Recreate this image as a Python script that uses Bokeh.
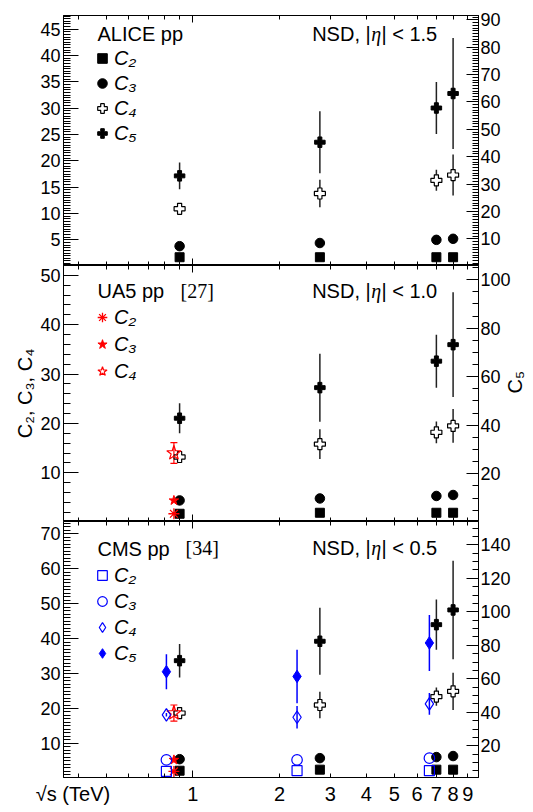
import math
from bokeh.plotting import figure
from bokeh.models import (ColumnDataSource, Range1d, LinearAxis, LogAxis, FixedTicker,
                          SingleIntervalTicker, Legend, LegendItem, Label, Whisker, TeeHead,
                          CustomJSTickFormatter)
from bokeh.layouts import column
from bokeh.embed import file_html
from bokeh.resources import INLINE

SANS = "Liberation Sans"
SERIF = "Liberation Serif"

# ---------------- data ----------------
alice_sqrts = [0.9, 2.76, 7.0, 8.0]
ua5_sqrts = [0.86]
cms_sqrts = [0.81, 2.3, 6.62]

x_title = "\u221as (TeV)"
x_title_pos = 0.384
x_label_ticks = [1, 2, 3, 4, 5, 6, 7, 8, 9]
x_edge_major = [1]
x_edge_minor = [0.4, 0.5, 0.6, 0.7, 0.8, 0.9, 2, 3, 4, 5, 6, 7, 8, 9]

# panel 1 : ALICE NSD |eta| < 1.5
alice15_c2 = [1.7, 1.7, 1.7, 1.7]
alice15_c3 = [3.8, 4.4, 5.0, 5.2]
alice15_c4 = [10.9, 13.8, 16.3, 17.3]
alice15_c4_err = [0.5, 2.6, 2.0, 3.9]
alice15_c5 = [33.0, 45.3, 57.8, 63.1]
alice15_c5_err = [4.9, 11.3, 9.5, 20.3]

# panel 2 : NSD |eta| < 1.0
alice10_c2 = [1.7, 1.9, 1.9, 1.9]
alice10_c3 = [4.4, 4.8, 5.3, 5.5]
alice10_c4 = [13.2, 15.8, 18.2, 19.5]
alice10_c4_err = [0.8, 3.0, 2.2, 3.4]
alice10_c5 = [42.9, 55.5, 66.4, 73.2]
alice10_c5_err = [6.2, 14.0, 10.9, 21.6]
ua510_c2 = [1.7]
ua510_c3 = [4.4]
ua510_c4 = [14.0]
ua510_c4_err = [2.1]

# panel 3 : NSD |eta| < 0.5
alice05_c2 = [2.2, 2.5, 2.5, 2.5]
alice05_c3 = [5.5, 5.8, 6.1, 6.4]
alice05_c4 = [18.7, 21.0, 23.4, 24.9]
alice05_c4_err = [1.4, 3.8, 2.6, 5.3]
alice05_c5 = [70.8, 82.4, 92.3, 101.1]
alice05_c5_err = [10.0, 20.0, 15.0, 29.4]
ua505_c2 = [2.0]
ua505_c3 = [5.3]
ua505_c4 = [18.7]
ua505_c4_err = [2.3]
cms05_c2 = [2.0, 2.2, 2.2]
cms05_c3 = [5.3, 5.3, 5.8]
cms05_c4 = [18.2, 17.5, 21.3]
cms05_c4_err = [0.5, 3.2, 3.1]
cms05_c5 = [64.2, 61.4, 81.4]
cms05_c5_err = [10.5, 16.0, 16.7]

BLACK = "#000000"
RED = "#ff0000"
BLUE = "#0000ff"
FRAME_W = 415
TICK_FS = "18px"
TEXT_FS = "20px"


def style(ax, tin, minin, size=None, standoff=0):
    ax.major_tick_in = tin
    ax.major_tick_out = 0
    ax.minor_tick_in = minin
    ax.minor_tick_out = 0
    ax.axis_line_color = BLACK
    ax.major_tick_line_color = BLACK
    ax.minor_tick_line_color = BLACK
    if size is None:
        ax.major_label_text_font_size = "0px"
        ax.major_label_standoff = 0
        ax.major_label_text_alpha = 0
    else:
        ax.major_label_text_font = SANS
        ax.major_label_text_font_size = size
        ax.major_label_text_color = BLACK
        ax.major_label_standoff = standoff


def make_panel(fh, ylim, y2lim, lint, lmin, rint, rmin, top_b, bot_b, last):
    p = figure(x_axis_type="log", x_range=Range1d(0.356, 9.8), y_range=Range1d(*ylim),
               frame_width=FRAME_W, frame_height=fh, min_border_left=63, min_border_right=52,
               min_border_top=top_b, min_border_bottom=bot_b,
               output_backend="svg", toolbar_location=None)
    p.extra_y_ranges = {"r": Range1d(*y2lim)}
    p.xgrid.grid_line_color = None
    p.ygrid.grid_line_color = None
    p.outline_line_color = BLACK
    p.outline_line_width = 1
    p.background_fill_color = "white"
    p.border_fill_color = "white"
    xb = p.xaxis[0]
    xb.ticker = FixedTicker(ticks=x_edge_major, minor_ticks=x_edge_minor)
    style(xb, 7, 4)
    if last:
        fmt = CustomJSTickFormatter(
            code="return tick < 0.5 ? '%s' : tick.toFixed(0)" % x_title)
        xl = LogAxis(ticker=FixedTicker(ticks=[x_title_pos] + x_label_ticks), formatter=fmt)
        style(xl, 0, 0, "20px", 5)
        xl.axis_line_color = None
        xl.major_tick_line_color = None
        xl.minor_tick_line_color = None
        p.add_layout(xl, "below")
    xt = LogAxis(ticker=FixedTicker(ticks=x_edge_major, minor_ticks=x_edge_minor))
    style(xt, 7, 4)
    p.add_layout(xt, "above")
    yl = p.yaxis[0]
    yl.ticker = SingleIntervalTicker(interval=lint, num_minor_ticks=lmin)
    style(yl, 15, 7, TICK_FS, 3)
    yr = LinearAxis(y_range_name="r",
                    ticker=SingleIntervalTicker(interval=rint, num_minor_ticks=rmin))
    style(yr, 12, 6, TICK_FS, 2)
    p.add_layout(yr, "right")
    return p, yl, yr


def errbar(p, x, v, e, color, rname=None, width=1.5):
    src = ColumnDataSource(dict(x=x, lo=[a - b for a, b in zip(v, e)],
                                hi=[a + b for a, b in zip(v, e)]))
    kw = {"y_range_name": rname} if rname else {}
    p.segment(x0="x", y0="lo", x1="x", y1="hi", source=src,
              line_color=color, line_width=width, **kw)


def capped_errbar(p, x, v, e, color):
    src = ColumnDataSource(dict(x=x, lo=[a - b for a, b in zip(v, e)],
                                hi=[a + b for a, b in zip(v, e)]))
    w = Whisker(source=src, base="x", lower="lo", upper="hi", dimension="height",
                line_color=color, line_width=1.2,
                upper_head=TeeHead(size=7, line_color=color, line_width=1.2),
                lower_head=TeeHead(size=7, line_color=color, line_width=1.2))
    p.add_layout(w)


def alice(p, c2, c3, c4, c4e, c5, c5e):
    errbar(p, alice_sqrts, c4, c4e, "#222222")
    errbar(p, alice_sqrts, c5, c5e, "#222222", "r")
    r2 = p.scatter(alice_sqrts, c2, marker="square", size=9, fill_color=BLACK, line_color=BLACK)
    r3 = p.scatter(alice_sqrts, c3, marker="circle", size=9.5, fill_color=BLACK, line_color=BLACK)
    r4 = p.scatter(alice_sqrts, c4, marker="plus", size=11, fill_color="white",
                   line_color=BLACK, line_width=1.2)
    r5 = p.scatter(alice_sqrts, c5, marker="plus", size=10.5, fill_color=BLACK,
                   line_color=BLACK, y_range_name="r")
    return [r2, r3, r4, r5]


def ua5(p, c2, c3, c4, c4e):
    capped_errbar(p, ua5_sqrts, c4, c4e, RED)
    r2 = p.scatter(ua5_sqrts, c2, marker="asterisk", size=11, line_color=RED, line_width=1.3)
    r3 = p.scatter(ua5_sqrts, c3, marker="star", size=10, fill_color=RED, line_color=RED)
    r4 = p.scatter(ua5_sqrts, c4, marker="star", size=15, fill_color=None,
                   line_color=RED, line_width=1.2)
    return [r2, r3, r4]


def cms(p, c2, c3, c4, c4e, c5, c5e):
    errbar(p, cms_sqrts, c4, c4e, BLUE)
    errbar(p, cms_sqrts, c5, c5e, BLUE, "r")
    r2 = p.scatter(cms_sqrts, c2, marker="square", size=10, fill_color=None,
                   line_color=BLUE, line_width=1.2)
    r3 = p.scatter(cms_sqrts, c3, marker="circle", size=10.5, fill_color=None,
                   line_color=BLUE, line_width=1.2)
    r4 = p.scatter(cms_sqrts, c4, marker="diamond", size=12.5, fill_color=None,
                   line_color=BLUE, line_width=1.2)
    r5 = p.scatter(cms_sqrts, c5, marker="diamond", size=12.5, fill_color=BLUE,
                   line_color=BLUE, y_range_name="r")
    return [r2, r3, r4, r5]


def text(p, x, y, s, font=SANS, size=TEXT_FS, align="left", style="normal"):
    p.add_layout(Label(x=x, y=y, x_units="screen", y_units="screen", text=s,
                       text_font=font, text_font_size=size, text_align=align,
                       text_baseline="middle", text_color=BLACK, text_font_style=style))


def nsd(p, y, eta_max):
    right = 373.7
    tail = "| < " + eta_max
    text(p, right, y, tail, align="right")
    text(p, right - 56, y, "\u03b7", font=SERIF, style="italic", align="right")
    text(p, right - 66.5, y, "NSD, |", align="right")


def legend(p, renderers, labels, loc, spacing):
    items = [LegendItem(label=l, renderers=[r]) for l, r in zip(labels, renderers)]
    leg = Legend(items=items, location=loc, label_text_font=SANS,
                 label_text_font_style="italic", label_text_font_size=TEXT_FS,
                 label_text_color=BLACK, glyph_width=24, glyph_height=24, label_height=24,
                 label_standoff=0, spacing=spacing, padding=0, margin=0,
                 border_line_color=None, background_fill_alpha=0)
    p.add_layout(leg)


c_labels4 = ["C\u2082", "C\u2083", "C\u2084", "C\u2085"]

# ---- panel 1 ----
p1, yl1, yr1 = make_panel(250, (0.13, 47.6), (0.25, 91.6), 5, 10, 10, 10, 15, 0, False)
r = alice(p1, alice15_c2, alice15_c3, alice15_c4, alice15_c4_err, alice15_c5, alice15_c5_err)
legend(p1, r, c_labels4, (27, 120), 1)
text(p1, 34, 231.5, "ALICE pp")
nsd(p1, 232, "1.5")

# ---- panel 2 ----
p2, yl2, yr2 = make_panel(256, (0.13, 52.0), (0.37, 105.8), 10, 5, 20, 4, 0, 0, False)
alice(p2, alice10_c2, alice10_c3, alice10_c4, alice10_c4_err, alice10_c5, alice10_c5_err)
r = ua5(p2, ua510_c2, ua510_c3, ua510_c4, ua510_c4_err)
legend(p2, r, c_labels4[:3], (27, 138), 3)
text(p2, 34, 230.3, "UA5 pp")
text(p2, 117, 231, "[27]", font=SERIF)
nsd(p2, 231, "1.0")
for ax, lab in ((yl2, "C\u2082, C\u2083, C\u2084"), (yr2, "C\u2085")):
    ax.axis_label = lab
    ax.axis_label_text_font = SANS
    ax.axis_label_text_font_size = TEXT_FS
    ax.axis_label_text_font_style = "normal"
    ax.axis_label_text_color = BLACK
    ax.axis_label_standoff = 1
yr2.axis_label_orientation = math.pi / 2

# ---- panel 3 ----
p3, yl3, yr3 = make_panel(256, (0.26, 73.5), (1.05, 153.9), 10, 10, 20, 4, 0, 33, True)
alice(p3, alice05_c2, alice05_c3, alice05_c4, alice05_c4_err, alice05_c5, alice05_c5_err)
ua5(p3, ua505_c2, ua505_c3, ua505_c4, ua505_c4_err)
r = cms(p3, cms05_c2, cms05_c3, cms05_c4, cms05_c4_err, cms05_c5, cms05_c5_err)
legend(p3, r, c_labels4, (27, 112), 2)
text(p3, 34, 228.5, "CMS pp")
text(p3, 122, 229.5, "[34]", font=SERIF)
nsd(p3, 229.5, "0.5")

layout = column(p1, p2, p3, spacing=0)
open("out.html", "w").write(file_html(layout, INLINE))
